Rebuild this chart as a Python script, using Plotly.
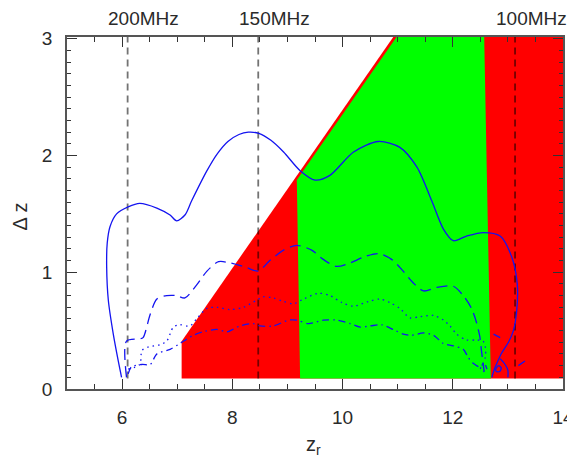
import plotly.graph_objects as go

# ---- data ----
# coloured regions (z_r, delta z)
red_x = [7.08, 7.08, 10.92, 14.0, 14.0]
red_y = [0.09, 0.41, 3.015, 3.015, 0.09]
green_x = [9.23, 9.17, 10.98, 12.57, 12.69]
green_y = [0.09, 1.79, 3.015, 3.015, 0.09]

# frequency markers
freq_z = [6.10, 8.47, 13.13]
freq_labels = ["200MHz", "150MHz", "100MHz"]

# contours
solid_x = [5.99, 5.93, 5.84, 5.75, 5.72, 5.73, 5.78, 5.90, 6.11, 6.32, 6.63, 6.87, 6.99, 7.14,
           7.26, 7.54, 7.72, 7.92, 8.12, 8.29, 8.48, 8.70, 8.93, 9.23, 9.50, 9.77, 10.20, 10.65,
           11.04, 11.35, 11.62, 11.83, 12.01, 12.25, 12.56, 12.86, 13.07, 13.17, 13.16, 13.10,
           13.01, 12.89, 12.80, 12.74, 12.71]
solid_y = [0.10, 0.24, 0.47, 0.76, 1.04, 1.25, 1.39, 1.50, 1.56, 1.59, 1.55, 1.49, 1.44, 1.49,
           1.61, 1.87, 2.01, 2.12, 2.18, 2.20, 2.19, 2.13, 2.03, 1.87, 1.79, 1.83, 2.03, 2.12,
           2.07, 1.90, 1.61, 1.37, 1.27, 1.31, 1.34, 1.31, 1.13, 0.90, 0.67, 0.50,
           0.40, 0.31, 0.22, 0.15, 0.10]
solid_frag_x = [12.86, 12.95, 13.00, 13.00, None, 12.78, 12.83, 12.88, 12.85, 12.79, 12.78]
solid_frag_y = [0.26, 0.21, 0.16, 0.10, None, 0.17, 0.20, 0.18, 0.15, 0.15, 0.17]

dash_x = [6.08, 6.08, 6.32, 6.38, 6.51, 6.63, 6.81, 6.99, 7.14, 7.35, 7.54, 7.75, 7.96, 8.26,
          8.47, 8.68, 8.93, 9.17, 9.44, 9.65, 9.89, 10.14, 10.38, 10.65, 10.89, 11.10, 11.28,
          11.47, 11.71, 12.01, 12.19, 12.34, 12.43, 12.49, 12.52, 12.55, 12.57]
dash_y = [0.10, 0.41, 0.43, 0.44, 0.64, 0.77, 0.80, 0.80, 0.78, 0.89, 1.01, 1.09, 1.08, 1.04,
          1.01, 1.10, 1.19, 1.23, 1.19, 1.11, 1.05, 1.08, 1.13, 1.16, 1.11, 1.01, 0.91,
          0.84, 0.87, 0.88, 0.80, 0.69, 0.57, 0.45, 0.33, 0.22, 0.15]
dash_frag_x = [12.74, 12.86, None, 13.19, 13.31]
dash_frag_y = [0.47, 0.44, None, 0.20, 0.24]

dot_x = [6.11, 6.32, 6.36, 6.48, 6.69, 6.81, 6.93, 7.05, 7.23, 7.35, 7.54, 7.72, 7.96, 8.20,
         8.44, 8.56, 8.74, 8.93, 9.11, 9.29, 9.56, 9.77, 9.99, 10.20, 10.47, 10.68, 10.86,
         11.04, 11.22, 11.41, 11.65, 11.83, 11.95, 12.07, 12.25, 12.43, 12.55, 12.59, 12.59,
         12.53, 12.50, 12.56, 12.62]
dot_y = [0.17, 0.21, 0.33, 0.36, 0.38, 0.41, 0.53, 0.55, 0.54, 0.60, 0.69, 0.70, 0.68, 0.70,
         0.76, 0.79, 0.78, 0.75, 0.73, 0.77, 0.82, 0.80, 0.74, 0.71, 0.75, 0.77, 0.74,
         0.69, 0.61, 0.62, 0.63, 0.59, 0.54, 0.47, 0.42, 0.42, 0.41, 0.36, 0.27,
         0.20, 0.17, 0.15, 0.18]

dashdot_x = [6.11, 6.17, 6.36, 6.51, 6.63, 6.87, 7.05, 7.29, 7.47, 7.72, 7.90, 8.14, 8.38, 8.50,
             8.74, 9.02, 9.17, 9.38, 9.65, 9.89, 10.14, 10.32, 10.50, 10.71, 10.92, 11.10, 11.25,
             11.47, 11.65, 11.83, 12.01, 12.19, 12.28, 12.37, 12.49, 12.57, 12.62]
dashdot_y = [0.13, 0.19, 0.21, 0.21, 0.30, 0.34, 0.39, 0.46, 0.49, 0.51, 0.49, 0.54, 0.56, 0.54,
             0.54, 0.59, 0.59, 0.56, 0.59, 0.59, 0.56, 0.53, 0.54, 0.55, 0.51, 0.47, 0.46,
             0.48, 0.46, 0.39, 0.37, 0.34, 0.27, 0.22, 0.19, 0.22, 0.17]

Y_MIN, Y_MAX = 0.0, 3.015
LINE_Y0 = 0.09

BLUE = "#1414f0"
FONT = "Liberation Sans"
TXT = "#2a2a2a"

fig = go.Figure()

fig.add_trace(go.Scatter(x=red_x, y=red_y, fill="toself", fillcolor="#ff0000",
                         mode="lines", line=dict(width=0), hoverinfo="skip"))
fig.add_trace(go.Scatter(x=green_x, y=green_y, fill="toself", fillcolor="#00ff00",
                         mode="lines", line=dict(width=0), hoverinfo="skip"))

for z in freq_z:
    fig.add_trace(go.Scatter(x=[z, z], y=[LINE_Y0, Y_MAX], mode="lines",
                             line=dict(color="rgba(0,0,0,0.55)", width=1.8, dash="7px,5px")))

def blue_line(x, y, dash, shape="spline"):
    fig.add_trace(go.Scatter(x=x, y=y, mode="lines", connectgaps=False,
                             line=dict(color=BLUE, width=1.3, dash=dash, shape=shape,
                                       smoothing=0.8 if shape == "spline" else None)))

blue_line(solid_x, solid_y, "solid")
blue_line(solid_frag_x, solid_frag_y, "solid")
blue_line(dash_x, dash_y, "11px,6px")
blue_line(dash_frag_x, dash_frag_y, "11px,6px", shape="linear")
blue_line(dot_x, dot_y, "1.5px,4px")
blue_line(dashdot_x, dashdot_y, "7px,4px,1.5px,4px")

for z, lab in zip(freq_z, freq_labels):
    fig.add_annotation(x=z, xref="x", y=1, yref="paper", text=lab, showarrow=False,
                       xanchor="center", yanchor="middle", xshift=16, yshift=19,
                       font=dict(family=FONT, size=19, color=TXT))

# axis titles
fig.add_annotation(x=0.497, xref="paper", y=-0.16, yref="paper", text="z<sub>r</sub>",
                   showarrow=False, xanchor="center", yanchor="middle",
                   font=dict(family=FONT, size=20, color=TXT))
fig.add_annotation(x=-0.095, xref="paper", y=0.49, yref="paper", text="Δ z", textangle=-90,
                   showarrow=False, xanchor="center", yanchor="middle",
                   font=dict(family=FONT, size=20, color=TXT))

axis_common = dict(showline=True, linecolor="#555", linewidth=1.5, mirror="ticks",
                   ticks="inside", tickcolor="#333", showgrid=False, zeroline=False,
                   automargin=False,
                   tickfont=dict(family=FONT, size=19, color=TXT))

fig.update_xaxes(range=[5, 14], tick0=0, dtick=2, ticklen=10, tickwidth=1.2,
                 ticklabelstandoff=10,
                 minor=dict(dtick=0.5, ticklen=5, ticks="inside", tickcolor="#333", tickwidth=1),
                 **axis_common)
fig.update_yaxes(range=[Y_MIN, Y_MAX], tick0=0, dtick=1, ticklen=10, tickwidth=1.2,
                 ticklabelstandoff=9,
                 minor=dict(dtick=0.1, ticklen=4, ticks="inside", tickcolor="#333", tickwidth=1),
                 **axis_common)

# the page adds an 8px body margin, so the figure is 8px smaller than the window
fig.update_layout(width=567, height=454, margin=dict(l=59, r=12, t=29, b=73),
                  plot_bgcolor="white", paper_bgcolor="white", showlegend=False)

fig.write_html("out.html")
